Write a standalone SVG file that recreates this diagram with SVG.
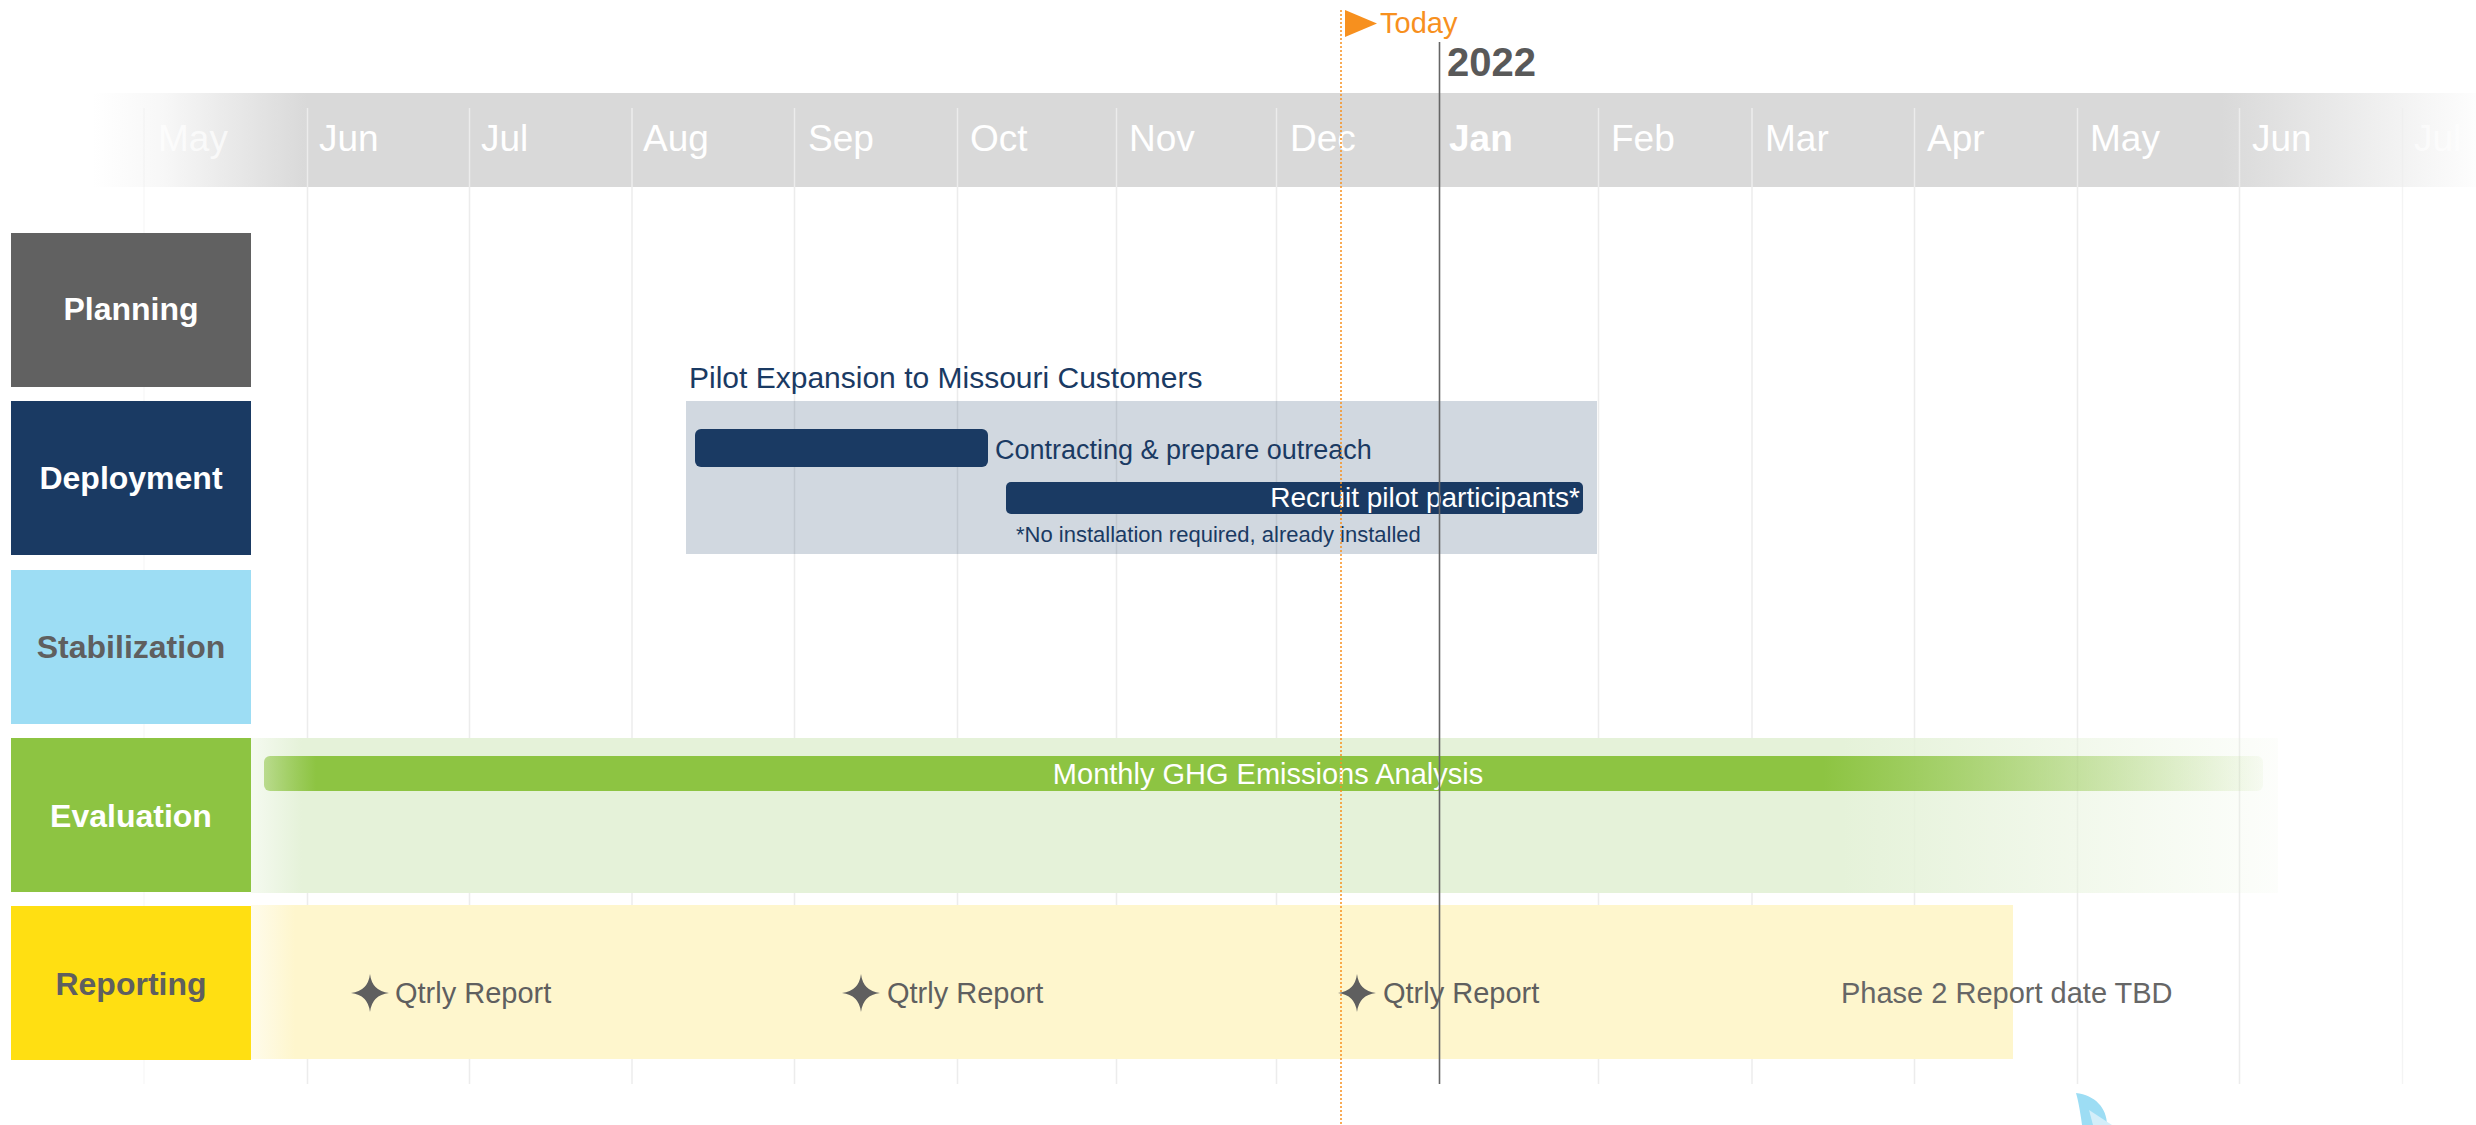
<svg xmlns="http://www.w3.org/2000/svg" width="2476" height="1125" viewBox="0 0 2476 1125">
<style>
  text { font-family: "Liberation Sans", Arial, sans-serif; }
  .month { font-size: 37px; fill: #ffffff; }
  .grid { stroke: #ececec; stroke-width: 1.5; }
  .lane-label { font-size: 32px; font-weight: bold; text-anchor: middle; }
  .dep { fill: #1a3a63; }
  .rep { font-size: 29px; fill: #5f5f5f; }
</style>
<defs>
  <linearGradient id="hdr" gradientUnits="userSpaceOnUse" x1="92" y1="0" x2="2476" y2="0">
    <stop offset="0" stop-color="#d9d9d9" stop-opacity="0"/>
    <stop offset="0.03" stop-color="#d9d9d9" stop-opacity="0.2"/>
    <stop offset="0.09" stop-color="#d9d9d9" stop-opacity="1"/>
    <stop offset="0.893" stop-color="#d9d9d9" stop-opacity="1"/>
    <stop offset="1" stop-color="#d9d9d9" stop-opacity="0.05"/>
  </linearGradient>
  <linearGradient id="evalBand" gradientUnits="userSpaceOnUse" x1="251" y1="0" x2="2278" y2="0">
    <stop offset="0" stop-color="#e5f2d9" stop-opacity="0.4"/>
    <stop offset="0.025" stop-color="#e5f2d9" stop-opacity="1"/>
    <stop offset="0.785" stop-color="#e5f2d9" stop-opacity="1"/>
    <stop offset="1" stop-color="#e5f2d9" stop-opacity="0.1"/>
  </linearGradient>
  <linearGradient id="evalBar" gradientUnits="userSpaceOnUse" x1="264" y1="0" x2="2263" y2="0">
    <stop offset="0" stop-color="#8dc442" stop-opacity="0.55"/>
    <stop offset="0.026" stop-color="#8dc442" stop-opacity="1"/>
    <stop offset="0.78" stop-color="#8dc442" stop-opacity="1"/>
    <stop offset="1" stop-color="#8dc442" stop-opacity="0.05"/>
  </linearGradient>
  <linearGradient id="repBand" gradientUnits="userSpaceOnUse" x1="251" y1="0" x2="2013" y2="0">
    <stop offset="0" stop-color="#fef6cd" stop-opacity="0.4"/>
    <stop offset="0.025" stop-color="#fef6cd" stop-opacity="1"/>
    <stop offset="1" stop-color="#fef6cd" stop-opacity="1"/>
  </linearGradient>
  <path id="star" d="M0,-19 Q2,-2 19,0 Q2,2 0,19 Q-2,2 -19,0 Q-2,-2 0,-19 Z" fill="#5f5f5f"/>
</defs>

<rect width="2476" height="1125" fill="#ffffff"/>

<!-- header band -->
<g id="timescale">
  <rect x="92" y="93" width="2384" height="94" fill="url(#hdr)"/>
  <g id="gridlines">
    <line class="grid" x1="144" y1="108" x2="144" y2="1084" stroke-opacity="0.35"/>
    <line class="grid" x1="307.5" y1="108" x2="307.5" y2="1084"/>
    <line class="grid" x1="469.5" y1="108" x2="469.5" y2="1084"/>
    <line class="grid" x1="632" y1="108" x2="632" y2="1084"/>
    <line class="grid" x1="794.5" y1="108" x2="794.5" y2="1084"/>
    <line class="grid" x1="957.5" y1="108" x2="957.5" y2="1084"/>
    <line class="grid" x1="1116.5" y1="108" x2="1116.5" y2="1084"/>
    <line class="grid" x1="1276.5" y1="108" x2="1276.5" y2="1084"/>
    <line class="grid" x1="1598.5" y1="108" x2="1598.5" y2="1084"/>
    <line class="grid" x1="1752" y1="108" x2="1752" y2="1084"/>
    <line class="grid" x1="1914.5" y1="108" x2="1914.5" y2="1084"/>
    <line class="grid" x1="2077.5" y1="108" x2="2077.5" y2="1084"/>
    <line class="grid" x1="2239.5" y1="108" x2="2239.5" y2="1084"/>
    <line class="grid" x1="2402.5" y1="108" x2="2402.5" y2="1084" stroke-opacity="0.6"/>
  </g>
  <text class="month" x="158" y="151" fill-opacity="0.7">May</text>
  <text class="month" x="319" y="151">Jun</text>
  <text class="month" x="481" y="151">Jul</text>
  <text class="month" x="643" y="151">Aug</text>
  <text class="month" x="808" y="151">Sep</text>
  <text class="month" x="970" y="151">Oct</text>
  <text class="month" x="1129" y="151">Nov</text>
  <text class="month" x="1290" y="151">Dec</text>
  <text class="month" x="1449" y="151" font-weight="bold">Jan</text>
  <text class="month" x="1611" y="151">Feb</text>
  <text class="month" x="1765" y="151">Mar</text>
  <text class="month" x="1927" y="151">Apr</text>
  <text class="month" x="2090" y="151">May</text>
  <text class="month" x="2252" y="151">Jun</text>
  <text class="month" x="2414" y="151" fill-opacity="0.6">Jul</text>
</g>

<!-- swimlane labels -->
<g id="lane-planning">
  <rect x="11" y="233" width="240" height="154" fill="#616161"/>
  <text class="lane-label" x="131" y="320" fill="#ffffff">Planning</text>
</g>
<g id="lane-deployment">
  <rect x="11" y="401" width="240" height="154" fill="#1a3a63"/>
  <text class="lane-label" x="131" y="489" fill="#ffffff">Deployment</text>
</g>
<g id="lane-stabilization">
  <rect x="11" y="570" width="240" height="154" fill="#9dddf4"/>
  <text class="lane-label" x="131" y="658" fill="#5f5f5f">Stabilization</text>
</g>
<g id="lane-evaluation">
  <rect x="11" y="738" width="240" height="154" fill="#8dc442"/>
  <text class="lane-label" x="131" y="827" fill="#ffffff">Evaluation</text>
</g>
<g id="lane-reporting">
  <rect x="11" y="906" width="240" height="154" fill="#ffdf12"/>
  <text class="lane-label" x="131" y="995" fill="#5f5f5f">Reporting</text>
</g>

<!-- deployment group -->
<g id="pilot-expansion">
  <rect x="686" y="401" width="911" height="153" fill="#1a3a63" fill-opacity="0.2"/>
  <text class="dep" x="689" y="388" font-size="30">Pilot Expansion to Missouri Customers</text>
</g>
<g id="task-contracting">
  <rect x="695" y="429" width="293" height="38" rx="6" fill="#1a3a63"/>
  <text class="dep" x="995" y="459" font-size="27">Contracting &amp; prepare outreach</text>
</g>
<g id="task-recruit">
  <rect x="1006" y="482" width="577" height="32" rx="5" fill="#1a3a63"/>
  <text x="1580" y="507" font-size="28" fill="#ffffff" text-anchor="end">Recruit pilot participants*</text>
  <text class="dep" x="1016" y="542" font-size="22">*No installation required, already installed</text>
</g>

<!-- evaluation -->
<g id="task-ghg">
  <rect x="251" y="738" width="2027" height="155" fill="url(#evalBand)"/>
  <rect x="264" y="756" width="1999" height="35" rx="6" fill="url(#evalBar)"/>
  <text x="1268" y="784" font-size="29" fill="#ffffff" text-anchor="middle">Monthly GHG Emissions Analysis</text>
</g>

<!-- reporting -->
<g id="reporting-band">
  <rect x="251" y="905" width="1762" height="154" fill="url(#repBand)"/>
</g>
<g id="milestone-q1">
  <use href="#star" x="370" y="993"/>
  <text class="rep" x="395" y="1003">Qtrly Report</text>
</g>
<g id="milestone-q2">
  <use href="#star" x="861" y="993"/>
  <text class="rep" x="887" y="1003">Qtrly Report</text>
</g>
<g id="milestone-q3">
  <use href="#star" x="1357" y="993"/>
  <text class="rep" x="1383" y="1003">Qtrly Report</text>
</g>
<g id="milestone-phase2">
  <text x="1841" y="1003" font-size="29" fill="#666666">Phase 2 Report date TBD</text>
</g>

<!-- markers -->
<g id="connectors">
  <line x1="1341" y1="10" x2="1341" y2="1125" stroke="#f7901e" stroke-width="1.5" stroke-dasharray="2,2"/>
  <line x1="1439.5" y1="42" x2="1439.5" y2="1084" stroke="#666666" stroke-width="1.6"/>
</g>
<g id="today">
  <polygon points="1345,10 1345,37 1377,23.5" fill="#f7901e"/>
  <text x="1380" y="33" font-size="29" fill="#f7901e">Today</text>
</g>
<g id="year">
  <text x="1447" y="76" font-size="40" font-weight="bold" fill="#595959">2022</text>
</g>

<!-- partial shape at bottom -->
<g id="bottom-shape">
  <path d="M2076,1093 C2095,1095 2107,1108 2107,1125 L2082,1125 C2080,1110 2078,1100 2076,1093 Z" fill="#9dddf4"/>
  <path d="M2089,1110 L2112,1125 L2093,1125 Z" fill="#d3eef9"/>
</g>
</svg>
